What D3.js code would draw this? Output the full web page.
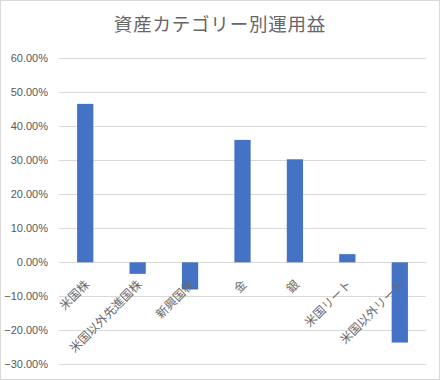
<!DOCTYPE html>
<html><head><meta charset="utf-8">
<script src="https://cdn.jsdelivr.net/npm/d3@7"></script>
<style>body{margin:0;background:#fff}svg{display:block}</style>
</head><body>
<svg id="c" width="440" height="380"></svg>
<script>
const title = "資産カテゴリー別運用益";
const categories = ["米国株","米国以外先進国株","新興国株","金","銀","米国リート","米国以外リート"];
const values = [0.466, -0.034, -0.080, 0.360, 0.303, 0.024, -0.236];
const yTicks = [0.6,0.5,0.4,0.3,0.2,0.1,0,-0.1,-0.2,-0.3];

const svg = d3.select("#c");
const W = 440, H = 380;
const m = {left:59, right:14, top:58, bottom:16};
svg.append("rect").attr("x",0.5).attr("y",0.5).attr("width",W-1).attr("height",H-1)
  .attr("fill","#fff").attr("stroke","#d9d9d9");

const x = d3.scaleBand().domain(categories).range([m.left, 426]).paddingInner(0.69).paddingOuter(0.345);
const y = d3.scaleLinear().domain([-0.3,0.6]).range([364.3, 58.3]);

svg.append("text").attr("x",220).attr("y",31).attr("text-anchor","middle")
  .attr("font-family","'Noto Sans CJK JP'").attr("font-size",18.5).attr("letter-spacing","0.8px")
  .attr("fill","#666").text(title);

const yAxis = d3.axisLeft(y).tickValues(yTicks).tickSize(-(426-m.left)).tickFormat(d3.format(".2%"));
const g = svg.append("g").attr("transform",`translate(${m.left},0)`).call(yAxis);
g.select(".domain").remove();
g.selectAll(".tick line").attr("stroke","#d9d9d9").attr("shape-rendering","crispEdges");
g.selectAll(".tick text").attr("x",-11).attr("fill","#595959")
  .attr("font-family","'Liberation Sans', Arial, sans-serif").attr("font-size",11);

svg.append("g").selectAll("rect").data(values).join("rect")
  .attr("x",(d,i)=>x(categories[i]))
  .attr("width",x.bandwidth())
  .attr("y",d=>y(Math.max(0,d)))
  .attr("height",d=>Math.abs(y(d)-y(0)))
  .attr("fill","#4472C4");

svg.append("g").selectAll("text").data(categories).join("text")
  .attr("transform",d=>`translate(${x(d)+x.bandwidth()/2-1},${y(0)+17}) rotate(-45)`)
  .attr("text-anchor","end").attr("dy","0.7em")
  .attr("font-family","'Noto Sans CJK JP'").attr("font-size",12)
  .attr("fill","#6a6a6a").text(d=>d);
</script>
</body></html>
